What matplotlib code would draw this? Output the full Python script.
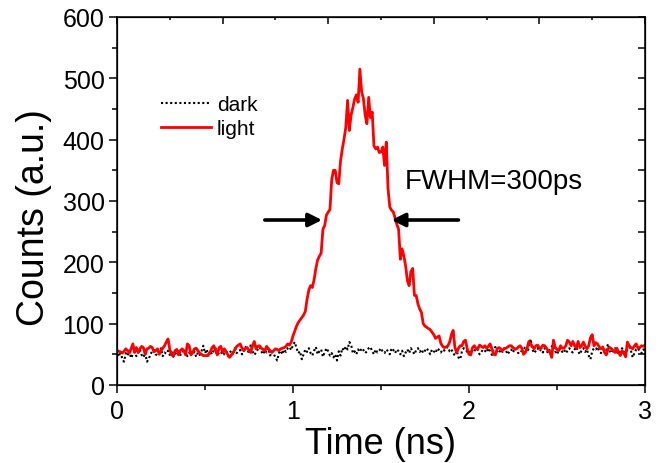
import numpy as np
import matplotlib
matplotlib.use("Agg")
import matplotlib.pyplot as plt
from matplotlib.ticker import MultipleLocator

plt.rcParams['font.family'] = ['Liberation Sans', 'DejaVu Sans']

# time axis (ns), 0.01 ns steps
time_ns = np.round(np.arange(0, 301) * 0.01, 2)

light_counts = [
    # 0.00 - 0.99
    56, 55, 54, 52, 55, 59, 56, 52, 59, 67,
    53, 61, 53, 59, 63, 61, 50, 59, 60, 63,
    61, 54, 56, 59, 50, 56, 60, 64, 70, 75,
    58, 49, 48, 56, 58, 49, 56, 59, 56, 49,
    67, 64, 49, 53, 59, 60, 56, 52, 50, 48,
    48, 48, 50, 54, 61, 64, 56, 49, 61, 63,
    53, 59, 54, 49, 45, 49, 53, 58, 63, 65,
    67, 60, 56, 60, 61, 56, 53, 64, 71, 59,
    63, 64, 60, 58, 56, 63, 59, 56, 53, 56,
    59, 58, 56, 59, 60, 61, 63, 67, 65, 70,
    # 1.00 - 1.99
    80, 88, 96, 102, 106, 110, 114, 120, 140, 155,
    162, 159, 172, 190, 204, 210, 215, 254, 260, 277,
    282, 286, 335, 350, 350, 330, 328, 365, 385, 401,
    420, 464, 415, 440, 452, 466, 473, 461, 515, 478,
    467, 440, 426, 469, 436, 445, 390, 385, 388, 379,
    380, 388, 358, 396, 320, 290, 285, 282, 272, 262,
    254, 205, 222, 210, 194, 170, 162, 185, 190, 146,
    146, 132, 124, 118, 100, 96, 94, 92, 90, 86,
    82, 76, 78, 80, 68, 63, 61, 62, 64, 70,
    82, 89, 61, 53, 60, 64, 64, 71, 73, 59,
    # 2.00 - 3.00
    50, 49, 61, 64, 60, 59, 65, 63, 61, 64,
    60, 63, 67, 59, 50, 49, 59, 61, 59, 56,
    59, 60, 62, 64, 64, 61, 59, 59, 62, 64,
    60, 50, 53, 60, 71, 67, 63, 59, 64, 65,
    61, 60, 65, 64, 60, 56, 53, 45, 73, 61,
    58, 56, 64, 60, 60, 64, 73, 70, 64, 71,
    64, 61, 71, 61, 64, 70, 63, 59, 64, 77,
    82, 64, 69, 67, 62, 59, 62, 53, 49, 59,
    61, 59, 56, 53, 60, 53, 48, 56, 52, 46,
    70, 64, 61, 59, 64, 67, 60, 61, 64, 63,
    65,
]

dark_counts = [
    # 0.00 - 0.99
    50, 46, 55, 42, 38, 52, 48, 56, 44, 50,
    54, 47, 52, 58, 49, 45, 53, 38, 42, 50,
    55, 57, 50, 48, 52, 60, 47, 53, 51, 56,
    49, 54, 46, 52, 50, 55, 49, 51, 58, 53,
    47, 52, 56, 50, 54, 46, 53, 49, 55, 64,
    52, 58, 46, 55, 50, 57, 60, 48, 53, 51,
    55, 50, 58, 47, 53, 56, 49, 60, 52, 55,
    57, 50, 54, 62, 58, 52, 66, 55, 49, 53,
    58, 62, 55, 50, 57, 53, 60, 48, 55, 51,
    45, 40, 52, 56, 50, 58, 54, 60, 62, 57,
    # 1.00 - 1.99
    65, 70, 60, 52, 55, 42, 50, 58, 54, 60,
    52, 48, 56, 62, 50, 55, 58, 46, 53, 60,
    55, 48, 52, 45, 50, 40, 55, 48, 60, 56,
    63, 58, 70, 66, 52, 55, 50, 58, 54, 60,
    57, 52, 55, 60, 62, 55, 50, 58, 53, 56,
    60, 54, 52, 58, 55, 50, 60, 57, 52, 58,
    55, 50, 56, 47, 53, 58, 52, 60, 55, 50,
    57, 60, 54, 58, 52, 56, 60, 55, 50, 58,
    55, 52, 60, 57, 53, 58, 56, 60, 62, 55,
    58, 52, 48, 56, 45, 42, 55, 60, 58, 54,
    # 2.00 - 3.00
    56, 52, 58, 55, 60, 57, 50, 54, 58, 56,
    53, 60, 55, 49, 57, 62, 55, 52, 58, 54,
    60, 56, 50, 55, 58, 53, 60, 57, 52, 56,
    55, 58, 62, 54, 60, 75, 58, 52, 56, 60,
    55, 58, 53, 60, 56, 52, 58, 62, 73, 55,
    50, 57, 60, 54, 58, 52, 56, 60, 55, 53,
    58, 62, 55, 50, 57, 60, 54, 58, 48, 42,
    55, 60, 58, 62, 55, 52, 58, 60, 57, 67,
    55, 52, 58, 60, 54, 50, 57, 60, 55, 52,
    58, 62, 56, 45, 52, 58, 60, 55, 52, 58,
    56,
]

fwhm_label = "FWHM=300ps"
fwhm_level = 269
fwhm_left = (0.84, 1.165)
fwhm_right = (1.94, 1.56)

fig = plt.figure(figsize=(6.69, 4.64), dpi=100)
ax = fig.add_axes([117/669, 1-386/464, 528/669, 368/464])

ax.plot(time_ns, dark_counts, color='black', linestyle=(0, (1, 1.2)), linewidth=1.5, label='dark')
ax.plot(time_ns, light_counts, color='#ff0000', linewidth=2.0, label='light')

ax.set_xlim(0, 3)
ax.set_ylim(0, 600)
ax.xaxis.set_major_locator(MultipleLocator(1))
ax.xaxis.set_minor_locator(MultipleLocator(0.5))
ax.yaxis.set_major_locator(MultipleLocator(100))
ax.yaxis.set_minor_locator(MultipleLocator(50))
ax.tick_params(which='major', direction='out', length=6, width=1.1, labelsize=18, pad=3)
ax.tick_params(which='minor', direction='out', length=3.5, width=1.1)
ax.tick_params(axis='x', which='major', pad=4)
for s in ax.spines.values():
    s.set_linewidth(1.1)

# top and right inward ticks
axt = ax.twiny()
axt.set_xlim(0, 3)
axt.xaxis.set_major_locator(MultipleLocator(0.6))
axt.xaxis.set_minor_locator(MultipleLocator(0.3))
axt.tick_params(which='major', direction='in', length=5, width=1.1, labeltop=False)
axt.tick_params(which='minor', direction='in', length=2.5, width=1.1)
axr = ax.twinx()
axr.set_ylim(0, 600)
axr.yaxis.set_major_locator(MultipleLocator(50))
axr.yaxis.set_minor_locator(MultipleLocator(50))
axr.tick_params(which='major', direction='in', length=5, width=1.1, labelright=False)

ax.set_xlabel('Time (ns)', fontsize=26, labelpad=2)
ax.set_ylabel('Counts (a.u.)', fontsize=27)
ax.yaxis.set_label_coords(-0.124, 0.459)

ax.legend(loc='upper left', bbox_to_anchor=(0.083, 0.788), frameon=False, fontsize=15,
          handlelength=2.4, handletextpad=0.3, labelspacing=0.25, borderpad=0, borderaxespad=0)

ax.text(1.636, 321, fwhm_label, fontsize=20, ha='left', va='baseline')
arrow_kw = dict(arrowstyle='-|>,head_length=0.8,head_width=0.4', color='black', lw=2.6, shrinkA=0, shrinkB=0)
ax.annotate('', xy=(fwhm_left[1], fwhm_level), xytext=(fwhm_left[0], fwhm_level), arrowprops=arrow_kw)
ax.annotate('', xy=(fwhm_right[1], fwhm_level), xytext=(fwhm_right[0], fwhm_level), arrowprops=arrow_kw)

fig.savefig('out.png', dpi=100)
